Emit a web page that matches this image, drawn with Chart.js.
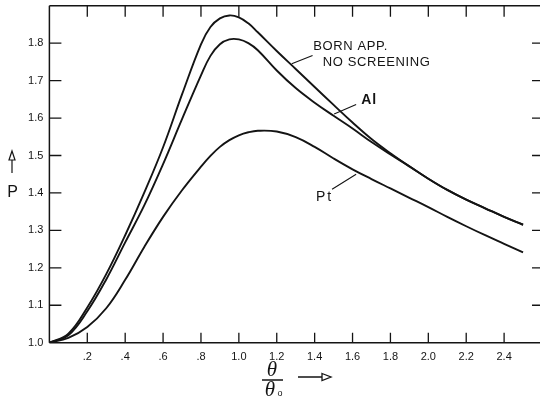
<!DOCTYPE html>
<html>
<head>
<meta charset="utf-8">
<script src="https://cdn.jsdelivr.net/npm/chart.js@4.4.1/dist/chart.umd.min.js"></script>
<style>
html,body{margin:0;padding:0;background:#fff;overflow:hidden;}
#wrap{position:relative;width:542px;height:400px;}
</style>
</head>
<body>
<div id="wrap"><canvas id="c" width="542" height="400"></canvas></div>
<script>
const xValues   = [0,0.1,0.2,0.3,0.4,0.5,0.6,0.7,0.8,0.85,0.9,0.95,1.0,1.05,1.1,1.2,1.3,1.4,1.5,1.6,1.7,1.8,1.9,2.0,2.1,2.2,2.3,2.4,2.5];
const bornValues = [1.000,1.024,1.094,1.183,1.287,1.400,1.522,1.663,1.797,1.843,1.866,1.874,1.869,1.853,1.829,1.779,1.731,1.683,1.635,1.588,1.544,1.506,1.471,1.438,1.408,1.382,1.359,1.336,1.315];
const alValues   = [1.000,1.020,1.084,1.169,1.268,1.366,1.477,1.597,1.714,1.766,1.797,1.810,1.810,1.800,1.781,1.727,1.680,1.641,1.606,1.572,1.536,1.503,1.471,1.438,1.408,1.382,1.359,1.336,1.315];
const ptValues   = [1.000,1.013,1.042,1.092,1.168,1.255,1.336,1.407,1.470,1.499,1.523,1.541,1.554,1.562,1.566,1.564,1.549,1.523,1.492,1.463,1.437,1.412,1.387,1.362,1.336,1.311,1.287,1.264,1.241];
const xTickValues = [0.2,0.4,0.6,0.8,1.0,1.2,1.4,1.6,1.8,2.0,2.2,2.4];
const yTickValues = [1.0,1.1,1.2,1.3,1.4,1.5,1.6,1.7,1.8];
const xTickLabels = ['.2','.4','.6','.8','1.0','1.2','1.4','1.6','1.8','2.0','2.2','2.4'];
const yTickLabels = ['1.0','1.1','1.2','1.3','1.4','1.5','1.6','1.7','1.8'];
const labelBorn1 = 'BORN APP.';
const labelBorn2 = 'NO SCREENING';
const labelAl = 'Al';
const labelPt = 'Pt';

const INK = '#141414';
function pts(ys){ return xValues.map((x,i)=>({x:x,y:ys[i]})); }
function ds(ys){
  return {data:pts(ys), showLine:true, borderColor:INK, borderWidth:1.9,
          pointRadius:0, fill:false, tension:0.4};
}

const decor = {
  id:'decor',
  afterDraw(chart){
    const ctx = chart.ctx, xs = chart.scales.x, ys = chart.scales.y;
    const {left,right,top,bottom} = chart.chartArea;
    ctx.save();
    ctx.strokeStyle = INK; ctx.lineWidth = 1.5; ctx.lineCap='butt';
    ctx.beginPath();
    ctx.moveTo(left,top); ctx.lineTo(right,top);
    ctx.moveTo(left,top); ctx.lineTo(left,bottom);
    ctx.moveTo(left,bottom); ctx.lineTo(right,bottom);
    ctx.moveTo(right,top); ctx.lineTo(right,bottom);
    ctx.stroke();
    ctx.lineWidth = 1.3;
    ctx.beginPath();
    xTickValues.forEach(v=>{
      const p = xs.getPixelForValue(v);
      ctx.moveTo(p,bottom); ctx.lineTo(p,bottom-10);
      ctx.moveTo(p,top); ctx.lineTo(p,top+11);
    });
    yTickValues.forEach(v=>{
      if (v<=1.0) return;
      const p = ys.getPixelForValue(v);
      ctx.moveTo(left,p); ctx.lineTo(left+12,p);
      ctx.moveTo(right,p); ctx.lineTo(right-10,p);
    });
    ctx.stroke();
    const X = v=>xs.getPixelForValue(v), Y = v=>ys.getPixelForValue(v);
    ctx.lineWidth = 1.1;
    ctx.beginPath();
    ctx.moveTo(X(1.279),Y(1.745)); ctx.lineTo(X(1.389),Y(1.767));
    ctx.moveTo(X(1.503),Y(1.611)); ctx.lineTo(X(1.619),Y(1.636));
    ctx.moveTo(X(1.492),Y(1.410)); ctx.lineTo(X(1.619),Y(1.450));
    ctx.stroke();
    ctx.fillStyle = INK;
    ctx.textBaseline = 'middle';
    ctx.textAlign = 'left';
    ctx.font = '13px "Liberation Sans", Arial, sans-serif';
    ctx.letterSpacing = '0.6px';
    ctx.fillText(labelBorn1, X(1.393), Y(1.7925));
    ctx.fillText(labelBorn2, X(1.443), Y(1.7497));
    ctx.textAlign = 'center';
    ctx.font = 'bold 14px "Liberation Sans", Arial, sans-serif';
    ctx.letterSpacing = '1px';
    ctx.fillText(labelAl, X(1.688), Y(1.648));
    ctx.font = '14px "Liberation Sans", Arial, sans-serif';
    ctx.letterSpacing = '2px';
    ctx.fillText(labelPt, X(1.452), Y(1.389));
    ctx.letterSpacing = '0px';
    ctx.lineWidth = 1.2;
    ctx.beginPath();
    ctx.moveTo(12,160); ctx.lineTo(12,173);
    ctx.stroke();
    ctx.beginPath();
    ctx.moveTo(12,151); ctx.lineTo(15,160); ctx.lineTo(9,160); ctx.closePath();
    ctx.stroke();
    ctx.font = '16px "Liberation Sans", Arial, sans-serif';
    ctx.textAlign = 'center';
    ctx.fillText('P', 12.5, 193);
    ctx.font = 'italic 21px "Liberation Serif", "DejaVu Serif", serif';
    ctx.fillText('θ', 272, 370);
    ctx.fillText('θ', 270, 390);
    ctx.font = '9px "Liberation Sans", Arial, sans-serif';
    ctx.fillText('o', 280, 394);
    ctx.lineWidth = 1.3;
    ctx.beginPath();
    ctx.moveTo(262,380); ctx.lineTo(283,380);
    ctx.moveTo(298,377); ctx.lineTo(322,377);
    ctx.stroke();
    ctx.beginPath();
    ctx.moveTo(322,373.5); ctx.lineTo(331,377); ctx.lineTo(322,380.5); ctx.closePath();
    ctx.stroke();
    ctx.restore();
  }
};

new Chart(document.getElementById('c'), {
  type:'scatter',
  data:{datasets:[ds(bornValues), ds(alValues), ds(ptValues)]},
  options:{
    responsive:false, animation:false, devicePixelRatio:1,
    layout:{padding:{top:5.7,right:0,left:0,bottom:0}},
    plugins:{legend:{display:false}, tooltip:{enabled:false}},
    scales:{
      x:{type:'linear', min:0, max:2.6,
         afterBuildTicks(s){ s.ticks = xTickValues.map(v=>({value:v})); },
         afterFit(s){ s.height = 57.3; },
         grid:{display:false, drawTicks:false},
         border:{display:false},
         ticks:{padding:8, color:INK, maxRotation:0, autoSkip:false,
                font:{family:'"Liberation Sans", Arial, sans-serif', size:11},
                callback(v){ const i = xTickValues.findIndex(t=>Math.abs(t-v)<1e-6); return i>=0 ? xTickLabels[i] : ''; }}
      },
      y:{type:'linear', min:1.0, max:1.9,
         afterBuildTicks(s){ s.ticks = yTickValues.map(v=>({value:v})); },
         afterFit(s){ s.width = 49.4; s.paddingTop = 0; },
         grid:{display:false, drawTicks:false},
         border:{display:false},
         ticks:{padding:6, color:INK, autoSkip:false,
                font:{family:'"Liberation Sans", Arial, sans-serif', size:11},
                callback(v){ const i = yTickValues.findIndex(t=>Math.abs(t-v)<1e-6); return i>=0 ? yTickLabels[i] : ''; }}
      }
    }
  },
  plugins:[decor]
});
</script>
</body>
</html>
